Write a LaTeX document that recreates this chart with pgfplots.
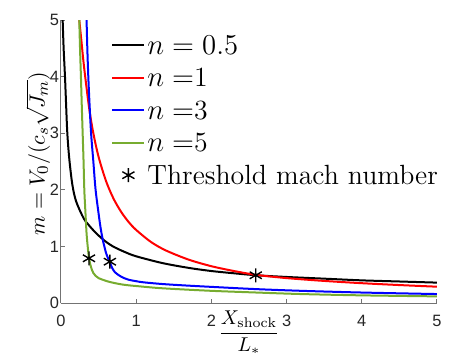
\documentclass[border=0pt]{standalone}
\usepackage{fontspec}
\usepackage{pgfplots}
\pgfplotsset{compat=1.18}
\usetikzlibrary{calc}
\newfontfamily\ticksans{Liberation Sans}
\definecolor{mgreen}{rgb}{0.466,0.674,0.188}
\definecolor{axgray}{rgb}{0.15,0.15,0.15}

\begin{document}
\begin{tikzpicture}
\begin{axis}[
    width=188pt, height=141.5pt, scale only axis,
    xmin=0, xmax=5, ymin=0, ymax=5,
    xtick={0,1,2,3,4,5}, ytick={0,1,2,3,4,5},
    axis x line*=bottom, axis y line*=left,
    axis line style={black!55, line width=0.5pt, -},
    tick style={black!55, line width=0.5pt},
    tick align=inside, major tick length=2pt,
    tick label style={font=\ticksans\fontsize{8.2}{9}\selectfont, text=axgray},
    /pgf/number format/assume math mode=true,
    xticklabel style={yshift=-2.5pt},
    yticklabel style={xshift=2.5pt},
    xlabel={$\displaystyle\frac{X_{\rm shock}}{L_*}$},
    xlabel style={at={(axis description cs:0.5,0)}, anchor=center, yshift=-15pt, font=\fontsize{10}{12}\selectfont},
    ylabel={$m = V_0/(c_s\sqrt{J_m})$},
    ylabel style={at={(axis description cs:0,0.528)}, anchor=center, yshift=11.5pt, font=\fontsize{10.9}{13}\selectfont},
    legend image code/.code={\draw[mark repeat=2,mark phase=2,#1] plot coordinates {(0pt,0pt) (8pt,0pt) (16pt,0pt)};},
    legend style={at={(axis description cs:0.117,0.969)}, anchor=north west, draw=none, fill=none,
        font=\fontsize{13.9}{16}\selectfont, row sep=4.25pt,
        nodes={inner sep=1pt, text height=9.5pt, text depth=0.5pt}},
    legend cell align=left,
    every axis plot/.append style={smooth, tension=0.5},
]
% n = 0.5
\addplot[black, line width=1pt] coordinates {
    (0.022,5.0) (0.035,4.5) (0.053,4.0) (0.068,3.5) (0.084,3.0) (0.11,2.55)
    (0.15,2.1) (0.2,1.8) (0.3,1.5) (0.38,1.36) (0.47,1.23) (0.58,1.10)
    (0.69,1.0) (0.85,0.9) (1.0,0.825) (1.35,0.705) (1.7,0.62) (2.0,0.565)
    (2.3,0.525) (2.6,0.49) (3.0,0.46) (3.5,0.43) (4.0,0.40) (4.5,0.38) (5.0,0.36)
};
\addlegendentry{$n = 0.5$}
% n = 1
\addplot[red, line width=1pt] coordinates {
    (0.243,5.0) (0.27,4.65) (0.3,4.25) (0.34,3.8) (0.38,3.39) (0.43,3.0)
    (0.5,2.58) (0.6,2.15) (0.7,1.84) (0.8,1.61) (0.9,1.43) (1.0,1.29)
    (1.2,1.075) (1.4,0.925) (1.7,0.765) (2.0,0.65) (2.3,0.565) (2.6,0.496)
    (3.0,0.44) (3.5,0.39) (4.0,0.35) (4.5,0.317) (5.0,0.288)
};
\addlegendentry{$n =$1}
% n = 3
\addplot[blue, line width=1pt] coordinates {
    (0.34,5.0) (0.35,4.5) (0.363,4.0) (0.38,3.5) (0.40,3.0) (0.43,2.5)
    (0.46,2.0) (0.505,1.53) (0.53,1.3) (0.56,1.09) (0.6,0.88) (0.63,0.78)
    (0.65,0.72) (0.68,0.62) (0.72,0.54) (0.8,0.465) (0.89,0.415) (1.0,0.385)
    (1.1,0.365) (1.35,0.335) (1.65,0.31) (2.0,0.285) (2.6,0.245) (3.2,0.215)
    (4.0,0.185) (5.0,0.158)
};
\addlegendentry{$n =$3}
% n = 5
\addplot[mgreen, line width=1pt] coordinates {
    (0.243,5.0) (0.253,4.5) (0.265,4.0) (0.276,3.5) (0.288,3.0) (0.30,2.5)
    (0.31,2.0) (0.325,1.6) (0.34,1.23) (0.355,1.0) (0.37,0.82) (0.39,0.68)
    (0.41,0.59) (0.43,0.53) (0.46,0.48) (0.5,0.44) (0.6,0.39) (0.72,0.35)
    (0.85,0.32) (1.0,0.30) (1.35,0.26) (2.0,0.215) (2.6,0.185) (3.2,0.158)
    (4.0,0.135) (5.0,0.117)
};
\addlegendentry{$n =$5}
% threshold points
\addplot[black, only marks, mark=asterisk, mark size=3.5pt, line width=0.7pt] coordinates {
    (0.372,0.79) (0.65,0.73) (2.59,0.49)
};
\addlegendentry{Threshold mach number}
\end{axis}
\pgfresetboundingbox
\useasboundingbox ($(current axis.south west)+(-30.5pt,-25pt)$) rectangle ($(current axis.north east)+(17pt,10pt)$);
\end{tikzpicture}
\end{document}
